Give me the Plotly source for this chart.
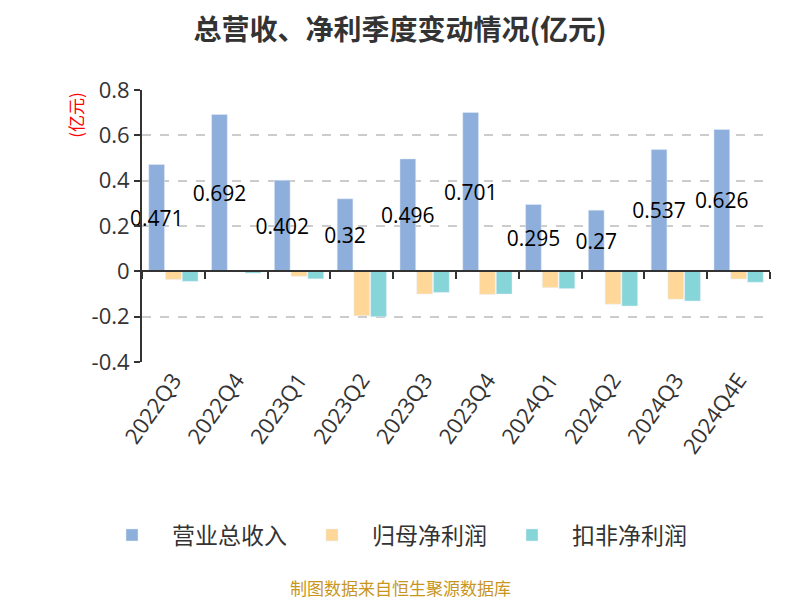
import plotly.graph_objects as go

categories = ["2022Q3", "2022Q4", "2023Q1", "2023Q2", "2023Q3", "2023Q4",
              "2024Q1", "2024Q2", "2024Q3", "2024Q4E"]
revenue = [0.471, 0.692, 0.402, 0.32, 0.496, 0.701, 0.295, 0.27, 0.537, 0.626]
net_profit = [-0.036, -0.002, -0.022, -0.196, -0.1, -0.102, -0.072, -0.145, -0.123, -0.034]
deducted_profit = [-0.044, -0.008, -0.033, -0.2, -0.093, -0.1, -0.076, -0.153, -0.131, -0.048]
revenue_labels = ["0.471", "0.692", "0.402", "0.32", "0.496", "0.701", "0.295", "0.27", "0.537", "0.626"]
y_ticks = [-0.4, -0.2, 0, 0.2, 0.4, 0.6, 0.8]
y_tick_text = ["-0.4", "-0.2", "0", "0.2", "0.4", "0.6", "0.8"]

FONT = "Noto Sans CJK SC, Noto Sans, sans-serif"
NUMFONT = "Open Sans, sans-serif"

fig = go.Figure()
fig.add_trace(go.Bar(
    name="营业总收入", x=categories, y=revenue, marker_color="#8EAEDB",
    text=revenue_labels, textposition="inside", insidetextanchor="middle",
    textangle=0, textfont=dict(size=21, color="#000000", family=NUMFONT),
    cliponaxis=False,
))
fig.add_trace(go.Bar(name="归母净利润", x=categories, y=net_profit, marker_color="#FFD899"))
fig.add_trace(go.Bar(name="扣非净利润", x=categories, y=deducted_profit, marker_color="#86D5D8"))

# x-axis line drawn along y=0 with boundary ticks
fig.add_trace(go.Scatter(x=[None], y=[None], xaxis="x2", showlegend=False, hoverinfo="skip"))

W, H = 792, 592
fig.update_layout(
    width=W, height=H,
    paper_bgcolor="white", plot_bgcolor="white",
    font=dict(family=FONT, color="#333333"),
    title=dict(text="<b>总营收、净利季度变动情况(亿元)</b>", x=392 / W, xanchor="center", xref="container",
               y=1 - 22 / H, yanchor="middle", yref="container",
               font=dict(size=28, color="#333333", family=FONT)),
    margin=dict(l=134, r=30, t=82, b=238, autoexpand=False),
    barmode="group", bargap=0.2, bargroupgap=0.06,
    uniformtext=dict(minsize=21, mode="show"),
    showlegend=True,
    legend=dict(orientation="h", x=384 / W, xanchor="center", xref="container",
                y=1 - 527 / H, yanchor="middle", yref="container",
                font=dict(size=23, color="#333333", family=FONT), itemwidth=70,
                traceorder="normal"),
    xaxis=dict(type="category", showline=False, ticks="", showgrid=False, automargin=False,
               tickangle=-55, tickfont=dict(size=22, color="#333333", family=NUMFONT),
               zeroline=False),
    xaxis2=dict(overlaying="x", anchor="free", position=1/3, range=[-0.5, 9.5],
                tickvals=[-0.5, 0.5, 1.5, 2.5, 3.5, 4.5, 5.5, 6.5, 7.5, 8.5, 9.5],
                showticklabels=False, ticks="outside", ticklen=7, tickwidth=2,
                tickcolor="#333333", showline=True, linecolor="#333333", linewidth=2,
                showgrid=False, zeroline=False, side="bottom", automargin=False),
    yaxis=dict(range=[-0.4, 0.8], tickvals=y_ticks, ticktext=y_tick_text, automargin=False,
               showgrid=True, gridcolor="#CCCCCC", griddash="dash", gridwidth=1.5,
               zeroline=False, showline=True, linecolor="#333333", linewidth=2,
               ticks="outside", ticklen=6, tickwidth=2, tickcolor="#333333",
               tickfont=dict(size=22, color="#333333", family=NUMFONT)),
    annotations=[
        dict(text="(亿元)", xref="paper", yref="paper", x=-0.107, y=0.908,
             xanchor="center", yanchor="middle", textangle=-90, showarrow=False,
             font=dict(size=17, color="#FF0000", family=FONT)),
        dict(text="制图数据来自恒生聚源数据库", xref="paper", yref="paper", x=0.411, y=-0.828,
             xanchor="center", yanchor="middle", showarrow=False,
             font=dict(size=17, color="#C8961E", family=FONT)),
    ],
)

fig.write_html("out.html")
